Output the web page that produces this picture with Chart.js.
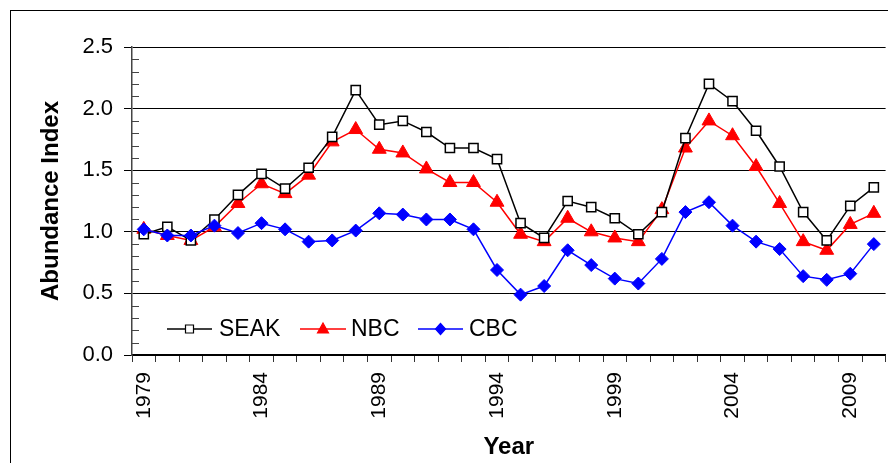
<!DOCTYPE html>
<html><head><meta charset="utf-8">
<script src="https://cdn.jsdelivr.net/npm/chart.js@4/dist/chart.umd.min.js"></script>
<style>
html,body{margin:0;padding:0;width:888px;height:463px;overflow:hidden;background:#fff;}
#frame{position:absolute;left:10px;top:10px;width:1000px;height:1000px;border:1.5px solid #000;}
canvas{position:absolute;left:0;top:0;}
</style></head><body>
<div id="frame"></div>
<canvas id="c" width="888" height="463"></canvas>
<script>
const years = [1979,1980,1981,1982,1983,1984,1985,1986,1987,1988,1989,1990,1991,1992,1993,1994,1995,1996,1997,1998,1999,2000,2001,2002,2003,2004,2005,2006,2007,2008,2009,2010];
const seak = [0.98,1.04,0.93,1.10,1.30,1.47,1.35,1.52,1.77,2.15,1.87,1.90,1.81,1.68,1.68,1.59,1.07,0.95,1.25,1.20,1.11,0.98,1.16,1.76,2.20,2.06,1.82,1.53,1.16,0.93,1.21,1.36];
const nbc  = [1.02,0.97,0.93,1.04,1.23,1.39,1.31,1.46,1.73,1.83,1.67,1.64,1.51,1.40,1.40,1.24,0.98,0.92,1.11,1.00,0.95,0.92,1.18,1.68,1.90,1.78,1.53,1.23,0.92,0.85,1.06,1.15];
const cbc  = [1.02,0.97,0.97,1.05,0.99,1.07,1.02,0.92,0.93,1.01,1.15,1.14,1.10,1.10,1.02,0.69,0.49,0.56,0.85,0.73,0.62,0.58,0.78,1.16,1.24,1.05,0.92,0.86,0.64,0.61,0.66,0.90];
const seriesNames = ['SEAK','NBC','CBC'];
const xLabelYears = [1979,1984,1989,1994,1999,2004,2009];
const yMin = 0, yMax = 2.5, yStep = 0.5, yMinorStep = 0.1;

const FONT = "Arial, 'Liberation Sans', Helvetica, sans-serif";

const minorTicks = {
  id: 'minorTicks',
  beforeDatasetsDraw(chart) {
    const {ctx, chartArea} = chart;
    const ys = chart.scales.y;
    ctx.save();
    ctx.strokeStyle = '#444';
    ctx.lineWidth = 1;
    const n = Math.round((yMax - yMin) / yMinorStep);
    for (let i = 0; i <= n; i++) {
      const v = yMin + i * yMinorStep;
      if (Math.abs(v / yStep - Math.round(v / yStep)) < 1e-6) continue;
      const py = Math.round(ys.getPixelForValue(v)) + 0.5;
      ctx.beginPath();
      ctx.moveTo(chartArea.left, py);
      ctx.lineTo(chartArea.left + 7, py);
      ctx.stroke();
    }
    ctx.restore();
  }
};

const insideLegend = {
  id: 'insideLegend',
  afterDraw(chart) {
    const {ctx} = chart;
    const items = [
      {ds: 0, x0: 167, x1: 212, mx: 189.5, tx: 219},
      {ds: 1, x0: 300, x1: 346, mx: 323, tx: 351},
      {ds: 2, x0: 418, x1: 463, mx: 440.5, tx: 469}
    ];
    const cy = 329;
    ctx.save();
    items.forEach(it => {
      const d = chart.data.datasets[it.ds];
      ctx.strokeStyle = d.borderColor;
      ctx.lineWidth = 1.5;
      ctx.beginPath();
      ctx.moveTo(it.x0, cy); ctx.lineTo(it.x1, cy); ctx.stroke();
      ctx.beginPath();
      const m = it.mx;
      if (d.pointStyle === 'rect') {
        ctx.rect(m - 4, cy - 4, 8, 8);
      } else if (d.pointStyle === 'triangle') {
        ctx.moveTo(m, cy - 6); ctx.lineTo(m + 5.5, cy + 4); ctx.lineTo(m - 5.5, cy + 4); ctx.closePath();
      } else {
        ctx.moveTo(m, cy - 5.5); ctx.lineTo(m + 5, cy); ctx.lineTo(m, cy + 5.5); ctx.lineTo(m - 5, cy); ctx.closePath();
      }
      ctx.fillStyle = d.pointBackgroundColor;
      ctx.fill();
      ctx.strokeStyle = d.pointBorderColor;
      ctx.lineWidth = 1.2;
      ctx.stroke();
      ctx.fillStyle = '#000';
      ctx.font = '23px ' + FONT;
      ctx.textBaseline = 'middle';
      ctx.textAlign = 'left';
      ctx.fillText(d.label, it.tx, cy + 1);
    });
    ctx.restore();
  }
};

new Chart(document.getElementById('c'), {
  type: 'line',
  data: {
    labels: years.map(String),
    datasets: [
      {label: seriesNames[0], data: seak, borderColor: '#000', borderWidth: 1.5,
       pointStyle: 'rect', pointRadius: 6.5, pointBackgroundColor: '#fff', pointBorderColor: '#000', pointBorderWidth: 1.5, order: 2},
      {label: seriesNames[1], data: nbc, borderColor: '#ff0000', borderWidth: 1.5,
       pointStyle: 'triangle', pointRadius: 8, pointBackgroundColor: '#ff0000', pointBorderColor: '#ff0000', pointBorderWidth: 1, order: 3},
      {label: seriesNames[2], data: cbc, borderColor: '#0000ff', borderWidth: 1.5,
       pointStyle: 'rectRot', pointRadius: 6.5, pointBackgroundColor: '#0000ff', pointBorderColor: '#0000ff', pointBorderWidth: 1, order: 1}
    ]
  },
  options: {
    responsive: false,
    animation: false,
    devicePixelRatio: 1,
    layout: {autoPadding: false, padding: {left: 0, right: 2.4, top: 47, bottom: 0}},
    plugins: {legend: {display: false}, tooltip: {enabled: false}},
    elements: {line: {tension: 0}},
    scales: {
      x: {
        type: 'category',
        offset: true,
        grid: {display: true, drawOnChartArea: false, drawTicks: true, tickLength: 7, color: '#333', offset: true},
        border: {display: true, color: '#000', width: 1.5},
        ticks: {
          autoSkip: false, minRotation: 90, maxRotation: 90, padding: 10,
          color: '#000', font: {family: FONT, size: 21},
          callback: function(v, i) { return xLabelYears.includes(years[i]) ? String(years[i]) : ''; }
        },
        title: {display: true, text: 'Year', color: '#000', font: {family: FONT, size: 24, weight: 'bold', lineHeight: 1.2}, padding: {top: 0, bottom: 1}},
        afterFit(s) { s.height = 108; s.paddingLeft = 0; s.paddingRight = 0; }
      },
      y: {
        min: yMin, max: yMax,
        grid: {color: '#000', lineWidth: 1, tickLength: 8, drawTicks: true},
        border: {display: true, color: '#444', width: 1.5},
        ticks: {stepSize: yStep, padding: 11, color: '#000', font: {family: FONT, size: 22},
          callback: v => Number(v).toFixed(1)},
        title: {display: true, text: 'Abundance Index', color: '#000', font: {family: FONT, size: 24, weight: 'bold', lineHeight: 1.2}, padding: {top: 37, bottom: 0}},
        afterFit(s) { s.width = 132; s.paddingTop = 0; s.paddingBottom = 0; }
      }
    }
  },
  plugins: [minorTicks, insideLegend]
});
</script>
</body></html>
